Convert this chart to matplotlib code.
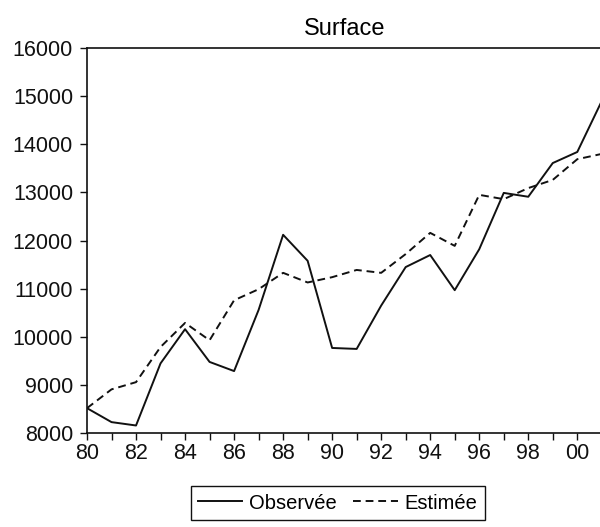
import matplotlib
matplotlib.use("Agg")
import matplotlib.pyplot as plt
from matplotlib.ticker import MultipleLocator, FuncFormatter

plt.rcParams["font.family"] = ["Liberation Sans", "DejaVu Sans"]

years = list(range(80, 102))
observee = [8520, 8230, 8160, 9450, 10160, 9480, 9290, 10560, 12120, 11580,
            9770, 9750, 10650, 11450, 11700, 10970, 11820, 12990, 12910, 13610,
            13840, 14900]
estimee = [8520, 8910, 9060, 9790, 10290, 9930, 10760, 10990, 11330, 11130,
           11240, 11390, 11330, 11720, 12160, 11890, 12950, 12860, 13090, 13260,
           13690, 13800]

fig = plt.figure(figsize=(6, 5.27), dpi=100)
ax = fig.add_axes([0.145, 0.178, 0.858, 0.731])

ax.plot(years, observee, color="#111111", lw=1.4, label="Observée")
ax.plot(years, estimee, color="#111111", lw=1.4, dashes=(4, 2.5), label="Estimée")

ax.set_xlim(80, 101)
ax.set_ylim(8000, 16000)
ax.xaxis.set_major_locator(MultipleLocator(1))
ax.xaxis.set_major_formatter(
    FuncFormatter(lambda v, p: f"{int(round(v)) % 100:02d}" if int(round(v)) % 2 == 0 else ""))
ax.yaxis.set_major_locator(MultipleLocator(1000))
ax.tick_params(direction="out", length=5, width=1, labelsize=15.5, colors="#111111")
ax.tick_params(axis="x", pad=2)
ax.tick_params(axis="y", pad=5)
for s in ax.spines.values():
    s.set_linewidth(1.2)
    s.set_color("#111111")

ax.set_title("Surface", fontsize=17, pad=9)

fig.legend(loc="center", bbox_to_anchor=(0.563, 0.0455), ncol=2, fontsize=14.5,
           frameon=True, fancybox=False, edgecolor="#111111", framealpha=1,
           handlelength=2.2, handletextpad=0.35, columnspacing=0.8,
           borderpad=0.35)

fig.savefig("out.png", dpi=100)
